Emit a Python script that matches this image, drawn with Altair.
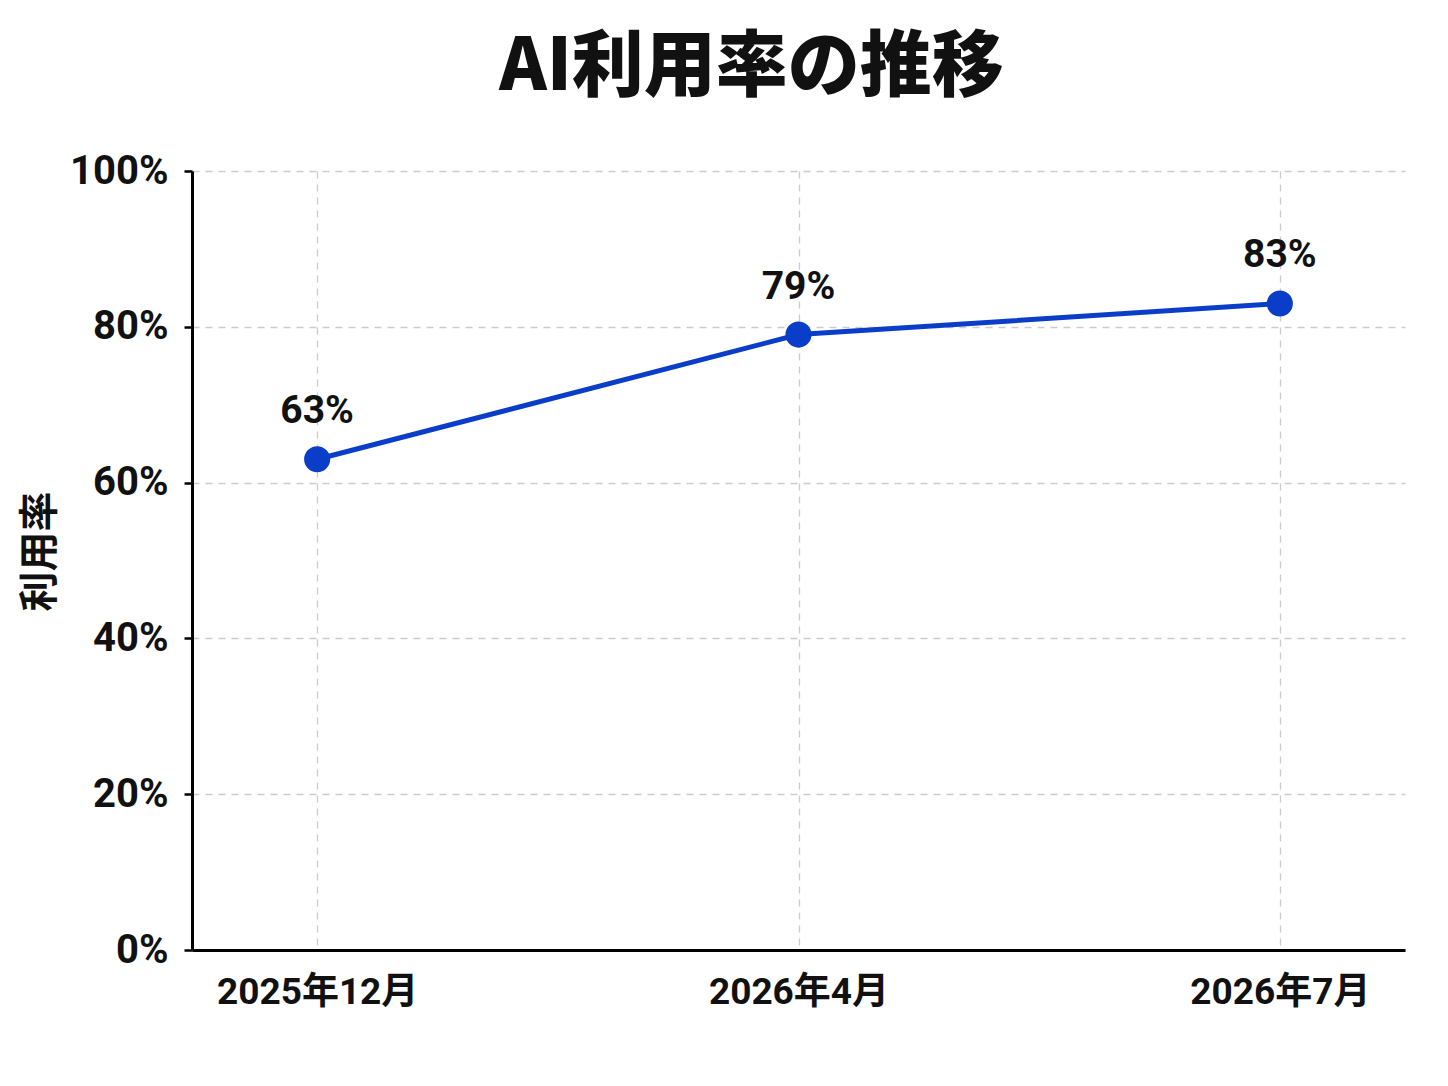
import altair as alt
import pandas as pd

periods = ["2025年12月", "2026年4月", "2026年7月"]
rates = [63, 79, 83]
labels = ["63%", "79%", "83%"]

df = pd.DataFrame({"period": periods, "rate": rates, "label": labels})

FONT = "Roboto, Noto Sans CJK JP"
CJK = "Noto Sans CJK JP"
BLUE = "#0b3ec8"

x = alt.X("period:N", sort=periods, title=None,
          scale=alt.Scale(type="point", padding=0.26),
          axis=alt.Axis(labelAngle=0, labelFontSize=37, labelFontWeight="bold",
                        labelColor="#111", labelFont=FONT, ticks=False, labelLimit=0,
                        labelPadding=24, domainColor="#000", domainWidth=3,
                        grid=True, gridDash=[7, 6], gridColor="#cccccc", gridWidth=1.3))
y = alt.Y("rate:Q", title="利用率",
          scale=alt.Scale(domain=[0, 100], nice=False),
          axis=alt.Axis(values=[0, 20, 40, 60, 80, 100], labelExpr="datum.value + '%'",
                        labelFontSize=40, labelFontWeight="bold", labelColor="#111",
                        labelFont=FONT, tickSize=8, tickWidth=2.5, tickColor="#000",
                        labelPadding=16, domainColor="#000", domainWidth=3,
                        titleFontSize=40, titleFont=CJK, titleFontWeight="bold",
                        titleColor="#111", titlePadding=9, titleY=380,
                        grid=True, gridDash=[7, 6], gridColor="#cccccc", gridWidth=1.3))

base = alt.Chart(df)
line = base.mark_line(color=BLUE, strokeWidth=5).encode(x=x, y=y)
pts = base.mark_point(filled=True, color=BLUE, size=680, opacity=1).encode(x=x, y=y)
txt = base.mark_text(dy=-48, fontSize=39, fontWeight="bold", font=FONT, color="#111").encode(
    x=x, y=y, text="label:N")

chart = (line + pts + txt).properties(
    width=1213, height=779,
    autosize=alt.AutoSizeParams(type="none"),
    padding={"left": 184, "top": 163, "right": 35, "bottom": 100},
    title=alt.TitleParams("AI利用率の推移", fontSize=72, fontWeight=900, font=CJK,
                          color="#111", anchor="middle", dx=-47, offset=46),
).configure_view(stroke=None)

chart.save("out.html", embed_options={"renderer": "svg", "actions": False})
